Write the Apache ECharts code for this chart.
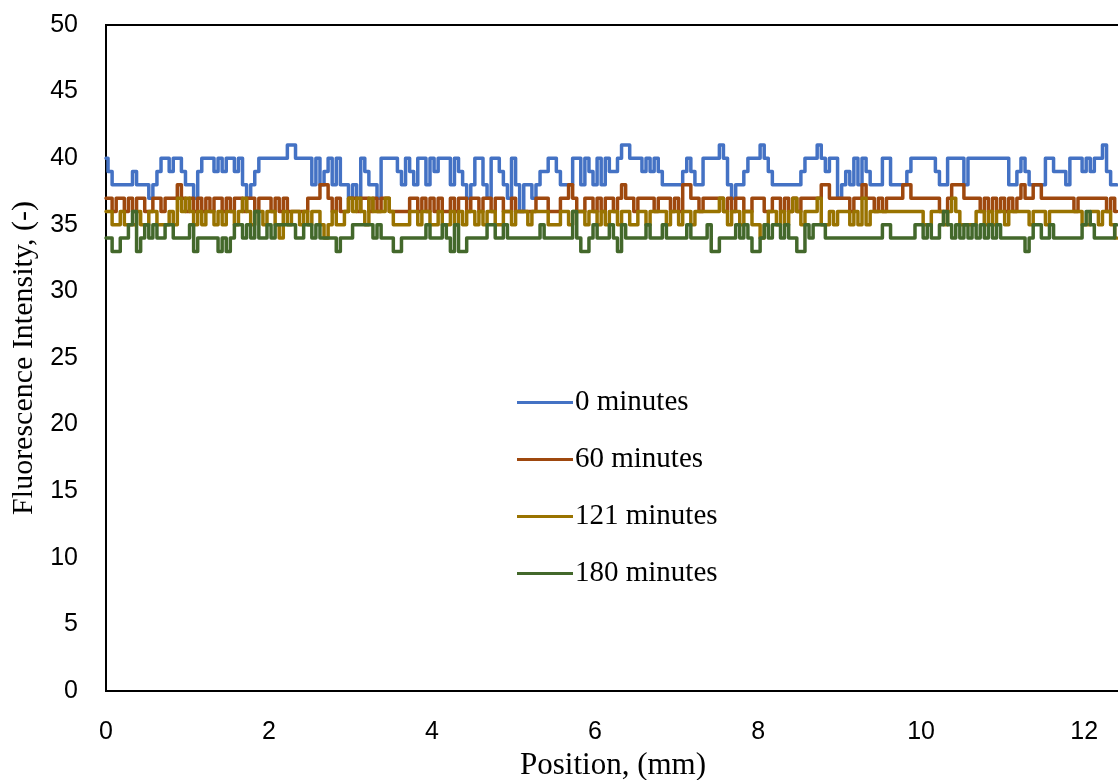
<!DOCTYPE html>
<html>
<head>
<meta charset="utf-8">
<script src="https://cdn.jsdelivr.net/npm/echarts@6/dist/echarts.min.js"></script>
<style>
html,body{margin:0;padding:0;background:#fff;}
#chart{width:1118px;height:780px;}
</style>
</head>
<body>
<div id="chart"></div>
<script>
// Position sampling step (mm) for all series
const positionStep = 0.05;

const seriesNames = ['0 minutes', '60 minutes', '121 minutes', '180 minutes'];
const seriesColors = ['#4472C4', '#9E480E', '#997300', '#43682B'];

const xTickLabels = ['0', '2', '4', '6', '8', '10', '12'];
const yTickLabels = ['0', '5', '10', '15', '20', '25', '30', '35', '40', '45', '50'];

const min0 = [
  40,39,38,38,38,38,38,39,38,38,
  38,37,38,39,40,40,39,40,40,39,
  38,38,37,39,40,40,40,39,40,39,
  40,40,39,40,38,37,38,39,40,40,
  40,40,40,40,40,41,41,40,40,40,
  40,38,40,38,39,40,38,40,38,38,
  37,38,37,40,39,38,38,37,40,40,
  40,40,39,38,40,39,38,40,40,38,
  40,39,40,40,40,38,40,39,38,37,
  38,40,40,38,37,40,40,39,38,37,
  40,38,36,38,38,37,38,39,39,40,
  40,39,38,38,38,40,40,38,40,39,
  38,40,38,40,39,39,40,41,41,40,
  40,40,39,40,39,40,39,38,38,38,
  38,38,39,40,39,38,38,40,40,40,
  40,41,40,38,37,38,38,39,40,40,
  40,41,40,39,38,38,38,38,38,38,
  38,39,40,40,40,41,40,39,40,40,
  37,38,39,38,40,38,40,39,38,38,
  38,40,40,38,38,38,38,39,40,40,
  40,40,40,40,39,38,38,40,40,40,
  40,38,40,40,40,40,40,40,40,40,
  40,40,38,38,39,40,39,38,38,38,
  38,40,40,39,39,39,38,40,40,40,
  39,40,39,40,40,41,39,38,38
];

const min60 = [
  37,37,36,37,37,36,37,36,37,37,
  36,36,37,37,36,37,37,37,38,37,
  36,37,36,37,36,37,36,37,37,36,
  37,36,37,37,36,37,37,36,37,37,
  37,36,37,36,37,36,36,36,36,36,
  37,37,37,38,38,37,36,37,36,36,
  37,37,36,37,37,36,37,36,37,37,
  36,36,36,36,36,37,37,36,37,36,
  37,36,37,36,36,37,36,37,37,36,
  37,37,36,37,37,36,37,37,36,36,
  37,36,36,36,36,36,37,37,37,36,
  36,36,37,37,38,37,36,36,37,37,
  36,37,36,37,37,36,37,38,37,37,
  36,37,37,37,37,36,37,37,37,36,
  37,36,38,38,37,37,36,37,37,37,
  37,37,36,37,36,37,37,36,36,37,
  37,37,36,36,37,37,36,37,36,37,
  36,37,37,37,37,37,38,38,37,37,
  37,37,37,36,37,37,38,37,37,36,
  37,36,37,37,37,37,38,38,37,37,
  37,37,37,37,37,36,36,37,38,38,
  38,37,37,37,37,36,37,36,37,36,
  37,36,37,36,37,38,37,37,38,38,
  37,37,37,37,37,37,37,37,36,37,
  37,37,37,37,37,37,36,37,36
];

const min121 = [
  36,36,35,35,36,35,35,35,36,35,
  35,36,36,35,35,35,36,35,37,36,
  37,36,35,36,35,36,36,35,36,35,
  36,36,35,36,37,36,35,36,36,35,
  36,36,35,34,36,35,36,36,35,36,
  35,36,36,35,34,35,36,35,35,36,
  37,36,37,36,35,37,36,36,36,37,
  36,35,35,35,35,36,36,35,36,36,
  35,35,36,35,35,36,35,36,35,36,
  36,35,36,35,36,36,35,35,36,36,
  35,36,36,36,35,36,36,36,36,35,
  35,35,36,36,35,36,36,36,35,36,
  36,35,36,35,36,36,35,36,36,35,
  35,36,36,35,36,36,36,36,35,36,
  36,35,36,36,35,36,36,36,36,36,
  36,37,36,35,36,36,35,36,36,35,
  35,34,35,36,36,35,36,35,36,37,
  36,35,36,36,36,37,35,35,36,35,
  36,36,36,35,36,35,37,35,36,36,
  36,36,36,36,36,36,36,36,36,36,
  36,35,35,36,36,36,35,36,37,36,
  35,35,35,35,36,36,35,36,35,36,
  36,35,36,36,36,36,36,35,36,36,
  36,35,36,36,36,36,36,36,36,36,
  35,35,36,36,35,36,36,35,34
];

const min180 = [
  34,34,33,33,34,34,35,36,33,34,
  35,34,35,34,34,35,35,34,34,34,
  34,35,33,34,34,34,34,34,33,34,
  33,34,35,35,34,35,34,36,34,34,
  35,34,35,35,35,35,35,34,34,35,
  35,34,35,34,34,34,34,33,34,34,
  34,35,35,35,35,35,34,35,34,34,
  34,33,33,34,34,34,34,34,34,35,
  34,34,34,35,34,33,35,33,33,34,
  34,34,34,34,35,35,34,34,35,34,
  34,34,34,34,34,34,34,35,34,34,
  34,34,34,34,34,36,34,33,33,34,
  35,34,34,34,35,34,33,35,34,34,
  34,34,34,35,34,34,34,35,34,34,
  34,34,34,35,34,34,34,34,35,33,
  33,34,34,34,34,35,34,35,34,33,
  33,34,35,34,35,35,34,35,34,34,
  33,33,35,34,35,35,35,34,34,34,
  34,34,34,34,34,34,34,34,34,34,
  34,35,35,34,34,34,34,34,34,35,
  35,34,35,34,34,35,36,35,34,35,
  34,35,34,35,34,35,34,35,34,35,
  34,34,34,34,34,34,33,34,35,35,
  34,34,35,34,34,34,34,34,34,34,
  35,36,35,34,34,34,34,34,35
];

const seriesValues = [min0, min60, min121, min180];

function toPairs(values) {
  return values.map((v, i) => [Number((i * positionStep).toFixed(2)), v]);
}

const chart = echarts.init(document.getElementById('chart'), null, {renderer: 'canvas'});

const tickFont = 'Liberation Sans';
const serifFont = 'Liberation Serif';

const option = {
  animation: false,
  backgroundColor: '#ffffff',
  grid: {
    left: 106, top: 25, width: 1014, height: 666,
    outerBoundsMode: 'none',
    containLabel: false,
    show: true, borderColor: '#000', borderWidth: 2, backgroundColor: 'transparent'
  },
  legend: {
    orient: 'vertical',
    left: 512, top: 383,
    itemWidth: 56, itemHeight: 29, itemGap: 28,
    icon: 'path://M0,0 L56,0 L56,3 L0,3 Z',
    textStyle: {fontFamily: serifFont, fontSize: 29, color: '#000', padding: [0, 0, 0, -3]},
    data: seriesNames.map((n, i) => ({name: n, itemStyle: {color: seriesColors[i]}}))
  },
  xAxis: {
    type: 'value', min: 0, max: 12.44, interval: 2,
    name: 'Position, (mm)', nameLocation: 'middle', nameGap: 57,
    nameTextStyle: {fontFamily: serifFont, fontSize: 31, color: '#000'},
    axisLine: {show: true, lineStyle: {color: '#000', width: 2}},
    axisTick: {show: false},
    splitLine: {show: false},
    axisLabel: {
      fontFamily: tickFont, fontSize: 25, color: '#000', margin: 29,
      showMaxLabel: false,
      formatter: function (v) { const idx = xTickLabels.indexOf(String(v)); return idx >= 0 ? xTickLabels[idx] : ''; }
    }
  },
  yAxis: {
    type: 'value', min: 0, max: 50, interval: 5,
    name: 'Fluorescence Intensity, (-)', nameLocation: 'middle', nameGap: 60,
    nameTextStyle: {fontFamily: serifFont, fontSize: 30, color: '#000'},
    axisLine: {show: true, lineStyle: {color: '#000', width: 2}},
    axisTick: {show: false},
    splitLine: {show: false},
    axisLabel: {
      fontFamily: tickFont, fontSize: 25, color: '#000', margin: 28,
      formatter: function (v) { const idx = yTickLabels.indexOf(String(v)); return idx >= 0 ? yTickLabels[idx] : ''; }
    }
  },
  series: seriesNames.map((name, i) => ({
    name: name,
    type: 'line',
    step: 'middle',
    data: toPairs(seriesValues[i]),
    showSymbol: false,
    symbol: 'none',
    lineStyle: {color: seriesColors[i], width: 3.5, join: 'round', cap: 'round'},
    itemStyle: {color: seriesColors[i]},
    emphasis: {disabled: true}
  }))
};

chart.setOption(option);
</script>
</body>
</html>
